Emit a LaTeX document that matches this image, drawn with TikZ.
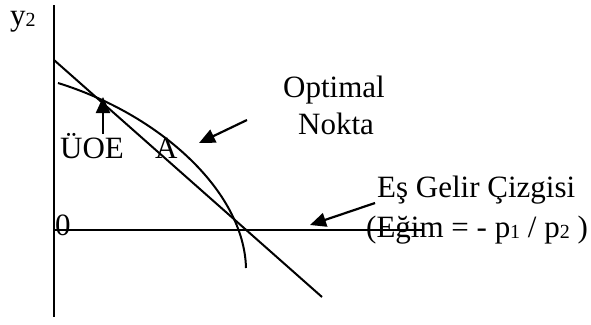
\documentclass[tikz,border=0pt]{standalone}
\usepackage{fontspec}
\setmainfont{Liberation Serif}
\usetikzlibrary{arrows.meta}
\newcommand\mysub[1]{\raisebox{-0.05em}{\fontsize{20}{20}\selectfont #1}}
\tikzset{
  ln/.style={line width=2pt},
  lbl/.style={anchor=base west, inner sep=0pt, font=\fontsize{31}{34}\selectfont},
  pointer/.style={line width=2.2pt, -{Triangle[length=16pt,width=14pt]}}
}
\begin{document}
\begin{tikzpicture}[x=1pt,y=-1pt]
\useasboundingbox (0,0) rectangle (591,324);
% axes
\coordinate (vtop) at (54,5);
\coordinate (vbot) at (54,317);
\coordinate (hl) at (54,230);
\coordinate (hr) at (423,230);
\draw[ln] (vtop) -- (vbot);
\draw[ln] (hl) -- (hr);
% budget line
\coordinate (bl1) at (54,60);
\coordinate (bl2) at (322,297);
\draw[ln] (bl1) -- (bl2);
% curve
\coordinate (c0) at (58,83);
\coordinate (c3) at (246,268);
\draw[ln] (c0) .. controls (158,114) and (244,190) .. (c3);
% labels
\node[lbl] (y2) at (10,25) {y\mysub{2}};
\node[lbl] (zero) at (55,235) {0};
\node[lbl] (uoe) at (60,158) {ÜOE};
\node[lbl] (A) at (155,158) {A};
\node[lbl] (opt) at (283,97) {Optimal};
\node[lbl] (nokta) at (298,134) {Nokta};
\node[lbl] (es) at (377,197) {Eş Gelir Çizgisi};
\node[lbl] (egim) at (366,237) {(Eğim = - p\mysub{1} / p\mysub{2} )};
% arrows
\coordinate (a1s) at (103,134);
\coordinate (a1e) at (103,97);
\draw[pointer] (a1s) -- (a1e);
\coordinate (a2s) at (247,120);
\coordinate (a2e) at (199,143);
\draw[pointer] (a2s) -- (a2e);
\coordinate (a3s) at (375,203);
\coordinate (a3e) at (310,225);
\draw[pointer] (a3s) -- (a3e);
\end{tikzpicture}
\end{document}
